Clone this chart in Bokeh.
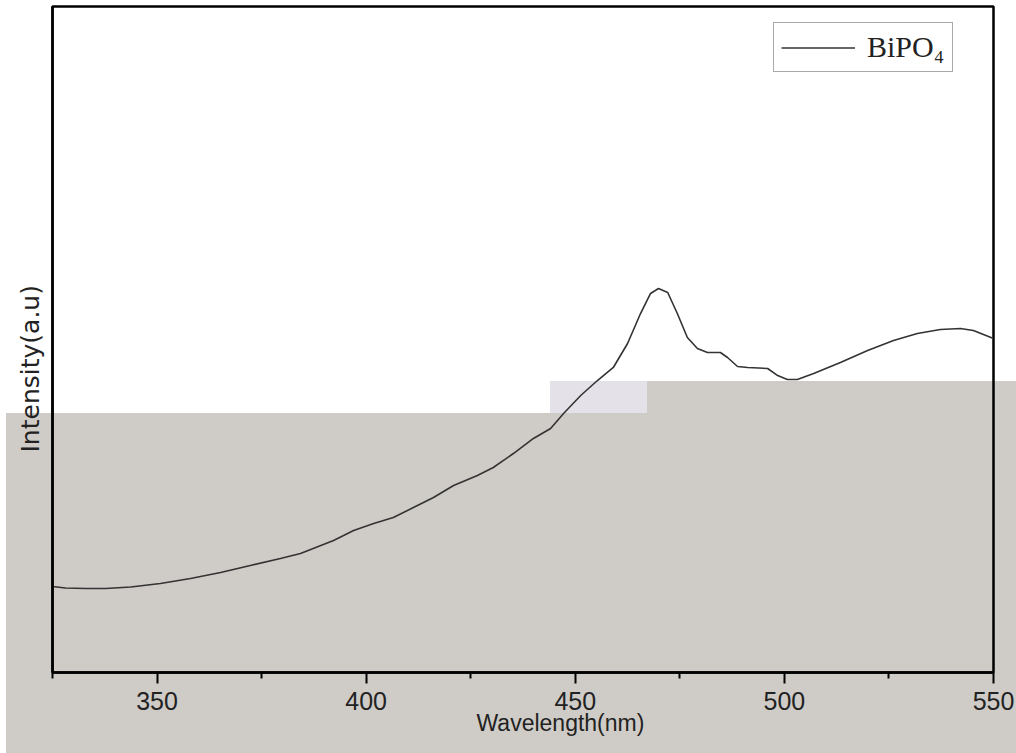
from bokeh.plotting import figure
from bokeh.models import (Range1d, FixedTicker, Legend, LegendItem, Title)
from bokeh.embed import file_html
from bokeh.resources import INLINE

# ---- data ----
wavelength = [325.0, 328.1, 332.9, 337.7, 343.7, 350.8, 358.0, 365.2, 372.3, 379.5,
              384.3, 392.2, 397.0, 401.8, 406.5, 411.3, 416.1, 420.9, 426.6, 430.4,
              435.2, 440.0, 444.1, 447.2, 451.3, 455.3, 459.1, 462.5, 465.6, 468.0,
              469.9, 472.1, 474.4, 476.8, 479.2, 481.6, 484.7, 486.4, 488.8, 491.2,
              496.0, 498.4, 500.7, 503.1, 507.0, 513.4, 519.9, 526.1, 531.8, 537.3,
              542.1, 545.2, 547.6, 550.0]
intensity = [12.91, 12.69, 12.61, 12.61, 12.84, 13.36, 14.11, 15.02, 16.07, 17.12,
             17.87, 19.82, 21.32, 22.37, 23.27, 24.77, 26.28, 28.08, 29.58, 30.78,
             32.88, 35.14, 36.64, 38.89, 41.59, 43.84, 45.80, 49.40, 53.90, 56.91,
             57.66, 57.06, 53.90, 50.30, 48.65, 48.05, 48.05, 47.30, 45.95, 45.80,
             45.65, 44.59, 43.99, 43.99, 44.89, 46.55, 48.35, 49.85, 50.90, 51.50,
             51.65, 51.35, 50.75, 50.15]
major_ticks = [350, 400, 450, 500, 550]
minor_ticks = [325, 375, 425, 475, 525]
series_name = "BiPO\u2084"
x_title = "Wavelength(nm)"
y_title = "Intensity(a.u)"

# grey scan artefact of the reference, painted as the page background behind the figure
gray = "#cfccc7"
lav = "#e4e2e8"
bg_styles = {
    "background-color": "white",
    "background-image": (f"linear-gradient({gray},{gray}), linear-gradient({gray},{gray}), "
                         f"linear-gradient({lav},{lav})"),
    "background-position": "6px 413px, 647px 381px, 550px 381px",
    "background-size": "1010px 340px, 369px 32px, 97px 32px",
    "background-repeat": "no-repeat",
}

p = figure(width=1016, height=753, output_backend="svg", toolbar_location=None,
           x_range=Range1d(325, 550), y_range=Range1d(0, 100),
           min_border_left=52, min_border_right=23, min_border_top=6, min_border_bottom=81,
           styles=bg_styles)
p.background_fill_color = None
p.border_fill_color = None
p.outline_line_color = "black"
p.outline_line_width = 2.5
p.grid.visible = False

ax = p.xaxis[0]
ax.ticker = FixedTicker(ticks=major_ticks, minor_ticks=minor_ticks)
ax.axis_line_width = 2.5
ax.axis_line_color = "black"
ax.major_tick_line_width = 2
ax.minor_tick_line_width = 2
ax.major_tick_in = 0
ax.major_tick_out = 11
ax.minor_tick_in = 0
ax.minor_tick_out = 6
ax.major_label_text_font = "Liberation Sans"
ax.major_label_text_font_size = "25px"
ax.major_label_text_color = "#222222"
ax.major_label_standoff = 8

ay = p.yaxis[0]
ay.ticker = FixedTicker(ticks=[], minor_ticks=[])
ay.axis_line_width = 2.5
ay.axis_line_color = "black"
ay.major_tick_out = 0
ay.major_tick_in = 0
ay.minor_tick_out = 0
ay.minor_tick_in = 0

line = p.line(wavelength, intensity, line_color="#333333", line_width=1.6)

legend = Legend(items=[LegendItem(label=series_name, renderers=[line])],
                location=(721, 600), padding=7, margin=0, spacing=0,
                glyph_width=74, glyph_height=25, label_height=25, label_width=78,
                label_standoff=12, label_text_font="Liberation Serif",
                label_text_font_size="30px", label_text_color="#222222",
                border_line_color="#555555", border_line_width=1.5,
                background_fill_color="white", background_fill_alpha=1.0)
p.add_layout(legend, "center")

p.add_layout(Title(text=x_title, align="left", offset=424, standoff=-10,
                   text_font="Liberation Sans", text_font_size="23px",
                   text_font_style="normal", text_color="#222222"), "below")
p.add_layout(Title(text=y_title, align="left", offset=220, standoff=15,
                   text_font="DejaVu Sans", text_font_size="25px",
                   text_font_style="normal", text_color="#222222"), "left")

open("out.html", "w").write(file_html(p, INLINE))
